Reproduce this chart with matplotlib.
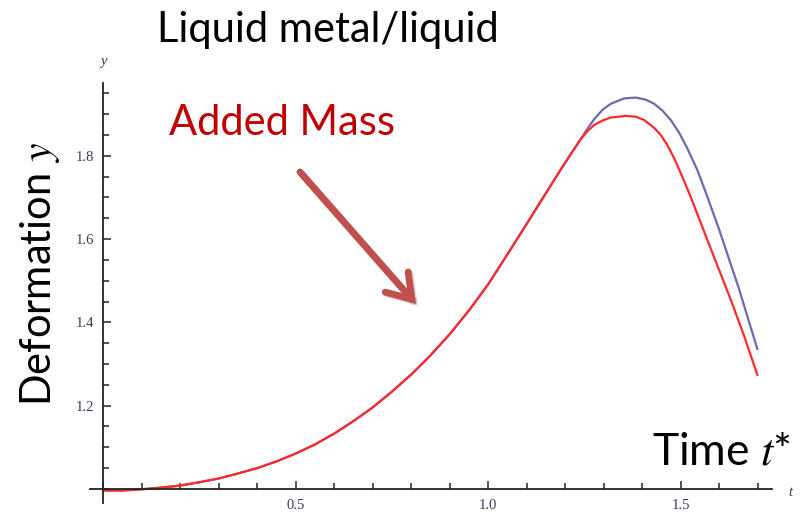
import matplotlib
matplotlib.use("Agg")
import matplotlib.pyplot as plt
from matplotlib.ticker import MultipleLocator, FixedLocator
import matplotlib.patheffects as pe

plt.rcParams["font.family"] = ["Liberation Serif", "DejaVu Serif"]
plt.rcParams["mathtext.fontset"] = "stix"

# shared part of both curves
t_common = [0.0, 0.05, 0.1, 0.15, 0.2, 0.25, 0.3, 0.35, 0.4, 0.45, 0.5, 0.55,
            0.6, 0.65, 0.7, 0.75, 0.8, 0.85, 0.9, 0.95, 1.0, 1.05, 1.1,
            1.15, 1.188, 1.214, 1.24]
y_common = [0.996, 0.996, 0.999, 1.003, 1.008, 1.016, 1.025, 1.037, 1.050, 1.066,
            1.085, 1.107, 1.133, 1.163, 1.196, 1.234, 1.275, 1.321, 1.372, 1.429,
            1.492, 1.564, 1.637, 1.711, 1.767, 1.804, 1.840]

# blue (without added mass)
t_blue = [1.258, 1.275, 1.297, 1.318, 1.353, 1.383, 1.409, 1.431, 1.452, 1.474,
          1.496, 1.517, 1.543, 1.565, 1.60, 1.65, 1.699]
y_blue = [1.866, 1.888, 1.911, 1.925, 1.938, 1.940, 1.935, 1.925, 1.909, 1.886,
          1.855, 1.818, 1.766, 1.712, 1.622, 1.484, 1.336]

# red (added mass)
t_red = [1.258, 1.275, 1.297, 1.318, 1.357, 1.383, 1.405, 1.431, 1.448, 1.465,
         1.483, 1.50, 1.522, 1.569, 1.60, 1.630, 1.665, 1.699]
y_red = [1.860, 1.874, 1.885, 1.892, 1.896, 1.894, 1.886, 1.867, 1.850, 1.826,
         1.794, 1.758, 1.710, 1.598, 1.525, 1.454, 1.366, 1.274]

x_major = [0.5, 1.0, 1.5]
y_major = [1.2, 1.4, 1.6, 1.8]
x_labels = ["0.5", "1.0", "1.5"]
y_labels = ["1.2", "1.4", "1.6", "1.8"]

W, H = 800, 515
fig = plt.figure(figsize=(W / 100, H / 100), dpi=100)
ax = fig.add_axes([90 / W, 12 / H, 682 / W, 420 / H])
ax.set_xlim(-0.035, 1.737)
ax.set_ylim(0.966, 1.975)

ax.plot(t_common + t_blue, y_common + y_blue, color="#6B6BAE", lw=1.6,
        solid_joinstyle="round")
ax.plot(t_common + t_red, y_common + y_red, color="#FF2A2A", lw=1.6,
        solid_joinstyle="round")

for s in ["top", "right"]:
    ax.spines[s].set_visible(False)
ax.spines["left"].set_position(("data", 0.0))
ax.spines["bottom"].set_position(("data", 1.0))
for s in ["left", "bottom"]:
    ax.spines[s].set_color("#222222")
    ax.spines[s].set_linewidth(1.3)

ax.xaxis.set_major_locator(FixedLocator(x_major))
ax.yaxis.set_major_locator(FixedLocator(y_major))
ax.xaxis.set_minor_locator(MultipleLocator(0.1))
ax.yaxis.set_minor_locator(MultipleLocator(0.05))
ax.set_xticklabels(x_labels, fontfamily="Liberation Serif")
ax.set_yticklabels(y_labels, fontfamily="Liberation Serif")
ax.tick_params(which="both", direction="in", color="#222222", width=1.1)
ax.tick_params(which="major", length=6)
ax.tick_params(which="minor", length=4)
ax.tick_params(axis="both", labelsize=10.5, labelcolor="#3a3a5a", pad=7)

# axis end labels (Mathematica style)
fig.text(790 / W, 1 - 492 / H, "t", family="Liberation Serif", style="italic",
         fontsize=10.5, color="#3a3a5a", ha="center", va="center")
fig.text(103 / W, 1 - 62 / H, "y", family="Liberation Serif", style="italic",
         fontsize=10.5, color="#3a3a5a", ha="center", va="center")

fig.text(328 / W, 1 - 30 / H, "Liquid metal/liquid", family="Lato", fontsize=30,
         color="black", ha="center", va="center")
fig.text(282 / W, 1 - 123 / H, "Added Mass", family="Lato", fontsize=30,
         color="#C00000", ha="center", va="center")
fig.text(40 / W, 1 - 274 / H, "Deformation $y$", family="Lato", fontsize=30,
         color="black", ha="center", va="center", rotation=90)
fig.text(722 / W, 1 - 452 / H, "Time $t$*", family="Lato", fontsize=32,
         color="black", ha="center", va="center")

# arrow
ax.annotate("", xy=(416 / W, 1 - 304 / H), xytext=(300 / W, 1 - 172 / H),
            xycoords="figure fraction", textcoords="figure fraction",
            arrowprops=dict(arrowstyle="->,head_length=0.75,head_width=0.5",
                            mutation_scale=22, color="#C0504D", lw=5,
                            shrinkA=0, shrinkB=0, joinstyle="miter",
                            path_effects=[pe.SimpleLineShadow(offset=(1.5, -1.5), alpha=0.12),
                                          pe.Normal()]))

fig.savefig("out.png", dpi=100)
